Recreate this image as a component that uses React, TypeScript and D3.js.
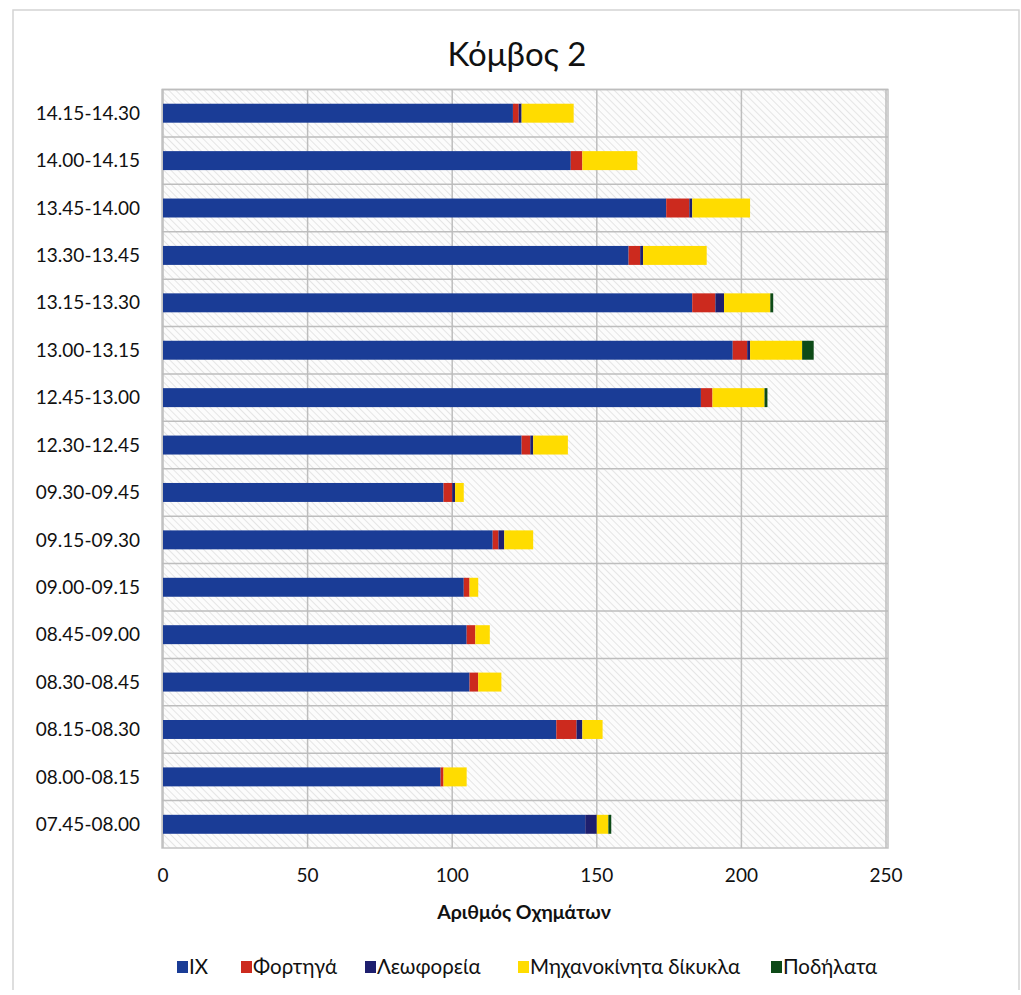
import React from "react";
import * as d3 from "d3";

// Time slots, top to bottom
const periods = [
  "14.15-14.30", "14.00-14.15", "13.45-14.00", "13.30-13.45",
  "13.15-13.30", "13.00-13.15", "12.45-13.00", "12.30-12.45",
  "09.30-09.45", "09.15-09.30", "09.00-09.15", "08.45-09.00",
  "08.30-08.45", "08.15-08.30", "08.00-08.15", "07.45-08.00",
];

// Vehicle counts per slot
const cars =        [121, 141, 174, 161, 183, 197, 186, 124, 97, 114, 104, 105, 106, 136, 96, 146];
const trucks =      [2, 4, 8, 4, 8, 5, 4, 3, 3, 2, 2, 3, 3, 7, 1, 0];
const buses =       [1, 0, 1, 1, 3, 1, 0, 1, 1, 2, 0, 0, 0, 2, 0, 4];
const motorcycles = [18, 19, 20, 22, 16, 18, 18, 12, 3, 10, 3, 5, 8, 7, 8, 4];
const bicycles =    [0, 0, 0, 0, 1, 4, 1, 0, 0, 0, 0, 0, 0, 0, 0, 1];

const seriesNames = ["IX", "Φορτηγά", "Λεωφορεία", "Μηχανοκίνητα δίκυκλα", "Ποδήλατα"];
const seriesColors = ["#1a3c96", "#cc2a1e", "#1e1f6e", "#ffdc00", "#0d4a17"];
const xTicks = [0, 50, 100, 150, 200, 250];

const W = 1021;
const H = 995;
const plot = { left: 162, right: 888, top: 89.5, bottom: 848 };
const FONT = "Lato, 'Noto Sans', sans-serif";

export default function App() {
  const seriesValues = [cars, trucks, buses, motorcycles, bicycles];
  const rows = periods.map((p, i) => {
    const r: Record<string, number | string> = { period: p };
    seriesNames.forEach((s, k) => (r[s] = seriesValues[k][i]));
    return r;
  });
  const stacked = d3.stack<any>().keys(seriesNames)(rows as any);

  const x = d3.scaleLinear().domain([0, 250]).range([plot.left + 1, plot.right - 2]);
  const y = d3
    .scaleBand<string>()
    .domain(periods)
    .range([plot.top, plot.bottom])
    .paddingInner(0.6)
    .paddingOuter(0.3);
  const step = (plot.bottom - plot.top) / periods.length;

  // legend layout
  const legendX = [177, 241, 365, 518, 771];

  return (
    <svg
      width={W}
      height={H}
      style={{ position: "absolute", left: 0, top: 0, background: "#fff" }}
      fontFamily={FONT}
    >
      <defs>
        <pattern id="hatch" width="5" height="5" patternUnits="userSpaceOnUse" patternTransform="rotate(-45)">
          <rect width="5" height="5" fill="#fcfcfc" />
          <line x1="0" y1="0" x2="0" y2="5" stroke="#d6d6d6" strokeWidth="1.2" />
        </pattern>
      </defs>

      {/* outer chart frame: top, left and right edges */}
      <path d="M13,990 L13,10 L1019,10 L1019,990" fill="none" stroke="#d4d4d4" strokeWidth={1.5} />

      <text x={517} y={66} textAnchor="middle" fontSize={33} fill="#111">
        Κόμβος 2
      </text>

      {/* plot area */}
      <rect
        x={plot.left}
        y={plot.top}
        width={plot.right - plot.left}
        height={plot.bottom - plot.top}
        fill="url(#hatch)"
        stroke="#c4c4c4"
        strokeWidth={1.5}
      />
      {xTicks.map((t) => (
        <line key={"v" + t} x1={x(t)} x2={x(t)} y1={plot.top} y2={plot.bottom} stroke="#bdbdbd" strokeWidth={1.5} />
      ))}
      {periods.map((p, i) => (
        <line
          key={"h" + p}
          x1={plot.left}
          x2={plot.right}
          y1={plot.top + step * i}
          y2={plot.top + step * i}
          stroke="#bdbdbd"
          strokeWidth={1.5}
        />
      ))}

      {/* stacked bars */}
      {stacked.map((layer, k) => (
        <g key={layer.key} fill={seriesColors[k]}>
          {layer.map((d, i) => {
            const w = x(d[1]) - x(d[0]);
            if (w <= 0) return null;
            return (
              <rect
                key={i}
                x={x(d[0])}
                y={y(periods[i])}
                width={w}
                height={y.bandwidth()}
              />
            );
          })}
        </g>
      ))}

      {/* category labels */}
      {periods.map((p) => (
        <text
          key={"l" + p}
          x={140}
          y={(y(p) ?? 0) + y.bandwidth() / 2}
          dy="0.35em"
          textAnchor="end"
          fontSize={19}
          fill="#111"
        >
          {p}
        </text>
      ))}

      {/* x tick labels */}
      {xTicks.map((t) => (
        <text key={"t" + t} x={x(t)} y={882} textAnchor="middle" fontSize={19} fill="#111">
          {t}
        </text>
      ))}

      <text x={524} y={919} textAnchor="middle" fontSize={19.5} fontWeight="bold" fill="#111">
        Αριθμός Οχημάτων
      </text>

      {/* legend */}
      {seriesNames.map((s, k) => (
        <g key={"lg" + s} transform={`translate(${legendX[k]},967)`}>
          <rect x={0} y={-6} width={11} height={12} fill={seriesColors[k]} />
          <text x={12} y={0} dy="0.35em" fontSize={20.5} fill="#111">
            {s}
          </text>
        </g>
      ))}
    </svg>
  );
}
